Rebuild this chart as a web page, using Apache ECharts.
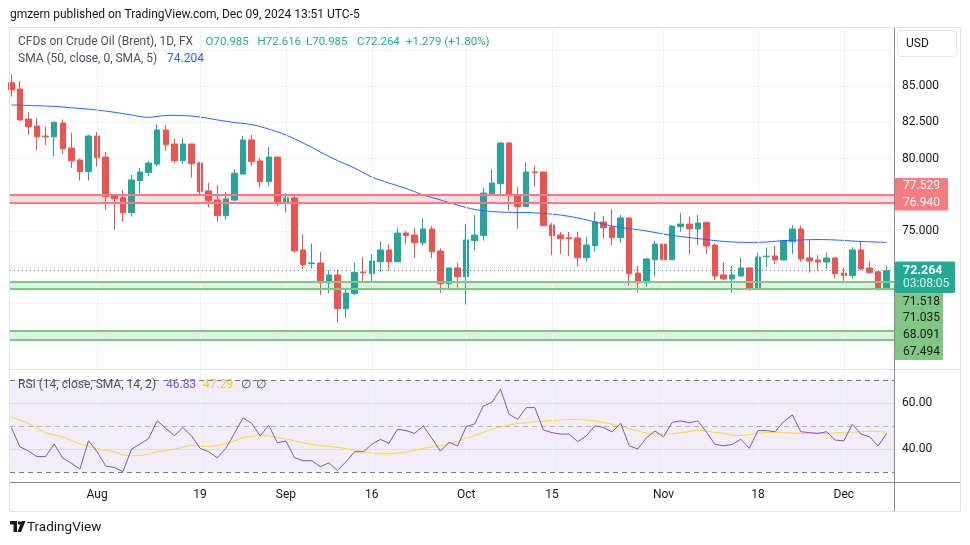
<!DOCTYPE html>
<html><head><meta charset="utf-8">
<script src="https://cdn.jsdelivr.net/npm/echarts@6/dist/echarts.min.js"></script>
<style>html,body{margin:0;padding:0;background:#fff}#c{width:970px;height:545px}</style>
</head><body><div id="c"></div>
<script>
// ---- data ----
const xLabelIdx = [10, 22, 32, 42, 53, 63, 76, 87, 97];
const xLabelText = ['Aug', '19', 'Sep', '16', 'Oct', '15', 'Nov', '18', 'Dec'];

const open = [85.23,84.79,82.72,82.24,81.55,81.50,82.45,80.72,79.90,79.09,81.55,80.10,77.43,77.30,76.26,78.47,79.02,79.62,81.97,81.00,79.85,81.00,79.69,77.76,77.14,76.06,77.14,78.93,81.28,79.83,78.40,80.10,76.95,77.28,73.69,72.75,72.79,71.43,71.97,69.64,70.68,72.18,72.06,72.88,73.69,72.88,74.86,74.72,74.19,75.14,73.62,71.37,72.45,71.85,74.33,74.68,77.57,78.26,81.07,77.48,76.68,79.07,79.07,75.41,74.72,74.54,74.52,73.16,73.99,75.62,75.28,74.54,75.90,72.10,71.43,73.02,74.10,73.02,75.30,75.48,75.14,75.60,74.03,71.97,71.69,71.90,72.45,70.98,73.23,73.28,73.00,74.26,75.14,73.14,73.00,72.86,73.14,72.10,71.92,73.69,72.45,72.19,70.985];
const close = [84.72,82.66,82.19,81.50,81.50,82.50,80.68,79.85,79.09,81.55,80.06,77.37,77.23,76.26,78.52,79.07,79.69,81.97,80.95,79.85,81.00,79.64,77.71,77.09,76.06,77.21,78.98,81.28,79.78,78.40,80.10,76.95,77.28,73.62,72.68,72.80,71.43,71.97,69.64,70.72,72.15,72.13,72.93,73.69,72.88,74.86,74.68,74.19,75.14,73.57,71.37,72.45,71.85,74.38,74.72,77.62,78.31,81.07,77.43,76.68,79.07,79.02,75.37,74.68,74.47,74.48,73.16,74.03,75.62,75.23,74.54,75.90,72.06,71.43,73.07,74.10,73.02,75.34,75.48,75.16,75.55,73.97,71.90,71.69,71.97,72.45,70.98,73.21,73.27,73.00,74.33,75.14,73.07,72.93,72.86,73.14,72.06,71.92,73.69,72.38,72.12,70.985,72.264];
const low = [84.26,82.59,81.62,80.54,80.93,80.12,80.31,79.34,78.47,78.47,79.43,76.45,75.07,75.62,75.99,77.60,78.79,79.48,80.54,79.67,79.62,78.68,77.48,76.63,75.64,75.76,77.07,78.93,79.50,77.99,78.12,76.74,76.26,73.50,72.38,72.43,70.59,70.70,68.68,69.02,70.59,71.50,71.50,72.19,72.26,72.88,74.08,73.12,74.01,73.12,70.74,70.98,71.09,69.94,73.64,74.33,77.43,77.37,76.40,75.16,76.68,78.06,75.37,73.34,73.41,73.28,72.54,72.88,73.57,74.47,74.03,74.19,71.23,70.74,71.16,71.85,73.02,73.02,74.95,73.37,74.03,73.41,71.62,71.62,70.74,71.85,70.86,70.93,72.50,72.72,73.00,73.41,72.88,72.12,72.26,72.38,71.74,71.57,71.74,72.31,72.08,70.88,70.985];
const high = [85.83,85.34,83.19,82.77,82.19,82.54,82.70,81.78,79.99,81.62,81.83,80.45,77.50,77.83,78.86,79.34,79.85,82.38,82.31,81.37,81.41,81.00,79.78,78.33,78.17,77.69,79.26,81.55,81.62,80.01,80.79,80.10,77.62,77.53,74.77,74.15,73.55,72.31,72.31,71.05,72.84,73.21,73.41,74.31,74.10,75.23,75.00,75.23,75.92,75.34,73.81,72.45,72.79,75.48,76.10,77.97,79.28,81.14,81.14,78.03,79.71,79.48,79.07,75.57,74.93,74.93,74.93,74.59,76.31,76.03,76.52,76.10,75.90,72.61,73.16,74.33,74.91,75.41,76.24,75.99,76.10,75.60,74.15,72.86,72.59,73.19,72.50,73.50,73.88,73.97,74.38,75.43,75.37,74.38,73.34,73.50,73.14,72.45,73.88,74.29,72.93,72.19,72.616];

const sma50 = [83.69,83.68,83.66,83.64,83.62,83.59,83.55,83.50,83.45,83.40,83.34,83.27,83.19,83.10,83.00,82.90,82.83,82.90,82.97,82.98,82.96,82.93,82.86,82.77,82.66,82.57,82.48,82.42,82.34,82.20,82.03,81.84,81.62,81.36,81.07,80.77,80.45,80.15,79.86,79.60,79.34,79.03,78.72,78.51,78.31,78.12,77.93,77.71,77.48,77.31,77.14,76.96,76.79,76.62,76.48,76.40,76.34,76.31,76.29,76.28,76.28,76.25,76.21,76.16,76.10,76.01,75.90,75.77,75.62,75.48,75.34,75.25,75.17,75.09,75.00,74.90,74.79,74.70,74.62,74.55,74.48,74.41,74.34,74.28,74.24,74.22,74.21,74.22,74.24,74.29,74.34,74.36,74.38,74.40,74.41,74.40,74.38,74.35,74.31,74.28,74.26,74.23,74.204];

const rsi = [49.4,41.0,39.1,36.7,36.7,42.2,36.0,33.8,31.3,43.6,38.8,32.6,32.0,30.1,39.9,42.2,44.5,52.3,49.0,45.8,49.3,45.7,40.3,38.8,36.2,40.3,46.8,53.6,51.2,45.7,50.3,42.7,43.5,36.2,34.9,34.9,32.3,34.0,30.6,34.5,38.8,38.8,42.0,44.2,42.5,48.6,48.0,46.8,50.0,44.7,39.1,42.9,41.3,49.7,50.9,58.7,60.3,66.0,55.1,52.9,58.0,58.0,48.3,47.1,46.5,46.5,43.2,45.7,50.1,49.4,47.4,51.2,41.4,40.0,44.9,47.8,45.3,51.6,52.2,51.4,52.2,47.3,42.0,41.4,42.0,44.2,40.3,48.0,48.0,47.5,51.9,54.8,47.5,47.1,46.8,47.5,43.9,43.5,50.7,46.5,45.3,41.3,46.83];
const rsiSma = [54.0,52.5,51.1,49.2,47.0,46.2,45.2,43.8,42.2,41.2,40.2,39.5,38.8,37.4,37.0,37.1,37.8,38.8,39.3,39.9,40.8,41.6,41.3,41.0,41.5,42.3,43.5,45.0,45.5,45.8,45.7,45.0,44.3,43.5,42.7,42.0,41.4,41.1,40.7,40.2,39.5,38.8,38.3,37.8,37.9,38.3,38.6,39.4,40.3,40.9,41.4,42.4,43.4,44.6,45.8,47.2,48.6,49.7,50.4,51.1,51.4,51.8,52.1,52.4,52.6,52.8,52.8,52.6,52.3,51.5,50.7,49.9,48.8,47.8,47.0,46.5,46.4,46.6,47.0,47.6,48.2,47.8,47.2,46.8,46.0,45.9,46.3,46.8,47.2,47.3,47.1,46.9,46.8,46.8,46.8,46.8,47.0,47.2,47.3,47.5,47.8,47.6,47.29];

const priceTickLabels = [85, 82.5, 80, 75];
const rsiTickLabels = [40, 60];
const resistanceZone = [77.529, 76.940];
const supportZone1 = [71.518, 71.035];
const supportZone2 = [68.091, 67.494];
const lastPrice = 72.264;
const countdown = '03:08:05';
const legendOHLC = ['O70.985', 'H72.616', 'L70.985', 'C72.264', '+1.279 (+1.80%)'];
const smaLegend = '74.204';
const rsiLegend = ['46.83', '47.29'];

// ---- chart ----
const FONT = 'Roboto';
const UP = '#26a69a', DOWN = '#ef5350';
const chart = echarts.init(document.getElementById('c'));

const candleData = open.map((o, i) => [i, o, close[i], low[i], high[i]]);
const noLine = {show: false};
const xBase = {type: 'value', min: -0.15, max: 102.85, axisLine: noLine, axisTick: noLine, splitLine: noLine};

function txt(x, y, text, color, size, weight) {
  return {type: 'text', x: x, y: y, silent: true, z: 100,
    style: {text: text, fill: color, fontSize: size || 12, fontWeight: weight || 'normal', fontFamily: FONT, verticalAlign: 'middle', align: 'left'}};
}

const zoneLines = (vals, color) => vals.map(v => ({yAxis: v, lineStyle: {color: color, width: 2, type: 'solid'}}));

const option = {
  animation: false,
  backgroundColor: '#ffffff',
  textStyle: {fontFamily: FONT},
  grid: [
    {left: 10, width: 884, top: 28, height: 348},
    {left: 10, width: 884, top: 357, height: 138}
  ],
  xAxis: [
    Object.assign({gridIndex: 0, axisLabel: noLine}, xBase),
    Object.assign({gridIndex: 1, position: 'bottom', offset: -13,
      axisLabel: {show: true, customValues: xLabelIdx, color: '#131722', fontSize: 12, margin: 7,
        formatter: v => { const k = xLabelIdx.indexOf(Math.round(v)); return k >= 0 ? xLabelText[k] : ''; }}}, xBase)
  ],
  yAxis: [
    {gridIndex: 0, type: 'value', position: 'right', min: 65, max: 89, interval: 2.5,
      axisLine: noLine, axisTick: noLine,
      axisLabel: {color: '#131722', fontSize: 12, margin: 8,
        formatter: v => priceTickLabels.some(t => Math.abs(t - v) < 1e-6) ? v.toFixed(3) : ''},
      splitLine: {show: true, showMinLine: false, showMaxLine: false, lineStyle: {color: '#f0f3fa', width: 1}}},
    {gridIndex: 1, type: 'value', position: 'right', min: 20, max: 80, interval: 20,
      axisLine: noLine, axisTick: noLine,
      axisLabel: {color: '#131722', fontSize: 12, margin: 8,
        formatter: v => rsiTickLabels.indexOf(Math.round(v)) >= 0 ? v.toFixed(2) : ''},
      splitLine: {show: true, showMinLine: false, showMaxLine: false, lineStyle: {color: '#ebe8f3', width: 1}}}
  ],
  series: [
    { // price pane decorations: vertical grid, zones, last price line
      type: 'line', xAxisIndex: 0, yAxisIndex: 0, data: [], z: 1, silent: true,
      markArea: {silent: true, data: [
        [{yAxis: resistanceZone[0], itemStyle: {color: 'rgba(247,124,128,0.25)'}}, {yAxis: resistanceZone[1]}],
        [{yAxis: supportZone1[0], itemStyle: {color: 'rgba(129,199,132,0.25)'}}, {yAxis: supportZone1[1]}],
        [{yAxis: supportZone2[0], itemStyle: {color: 'rgba(129,199,132,0.25)'}}, {yAxis: supportZone2[1]}]
      ]},
      markLine: {silent: true, symbol: ['none', 'none'], label: {show: false}, data: [].concat(
        xLabelIdx.map(i => ({xAxis: i, lineStyle: {color: '#f0f3fa', width: 1, type: 'solid'}})),
        zoneLines(resistanceZone, '#f77c80'),
        zoneLines(supportZone1, '#81c784'),
        zoneLines(supportZone2, '#81c784'),
        [{yAxis: lastPrice, lineStyle: {color: '#22ab94', width: 1, type: [1, 3]}}]
      )}
    },
    {
      type: 'candlestick', xAxisIndex: 0, yAxisIndex: 0, z: 3, barWidth: 6,
      encode: {x: 0, y: [1, 2, 3, 4]},
      itemStyle: {color: UP, color0: DOWN, borderColor: UP, borderColor0: DOWN, borderWidth: 1},
      data: candleData
    },
    {
      type: 'line', xAxisIndex: 0, yAxisIndex: 0, z: 4, symbol: 'none', smooth: 0.3,
      lineStyle: {color: '#2962ff', width: 1}, data: sma50.map((v, i) => [i, v])
    },
    { // RSI pane decorations
      type: 'line', xAxisIndex: 1, yAxisIndex: 1, data: [], z: 1, silent: true,
      markArea: {silent: true, data: [[{yAxis: 70, itemStyle: {color: 'rgba(126,87,194,0.1)'}}, {yAxis: 30}]]},
      markLine: {silent: true, symbol: ['none', 'none'], label: {show: false}, data: [].concat(
        xLabelIdx.map(i => [{coord: [i, 25.65], lineStyle: {color: '#f0f3fa', width: 1, type: 'solid'}}, {coord: [i, 74.8]}]),
        [{yAxis: 70, lineStyle: {color: '#787b86', width: 1, type: [5, 4]}},
         {yAxis: 50, lineStyle: {color: 'rgba(120,123,134,0.5)', width: 1, type: [5, 4]}},
         {yAxis: 30, lineStyle: {color: '#787b86', width: 1, type: [5, 4]}}]
      )}
    },
    {
      type: 'line', xAxisIndex: 1, yAxisIndex: 1, z: 4, symbol: 'none',
      lineStyle: {color: '#fdd835', width: 1}, data: rsiSma.map((v, i) => [i, v])
    },
    {
      type: 'line', xAxisIndex: 1, yAxisIndex: 1, z: 5, symbol: 'none',
      lineStyle: {color: '#7e57c2', width: 1}, data: rsi.map((v, i) => [i, v])
    }
  ],
  graphic: [
    // frame & separators
    {type: 'rect', silent: true, z: 50, shape: {x: 9.5, y: 27.5, width: 951, height: 484}, style: {fill: 'none', stroke: '#e0e3eb', lineWidth: 1}},
    {type: 'line', silent: true, z: 50, shape: {x1: 10, y1: 369.5, x2: 960, y2: 369.5}, style: {stroke: '#e0e3eb', lineWidth: 1}},
    {type: 'line', silent: true, z: 50, shape: {x1: 10, y1: 482.5, x2: 960, y2: 482.5}, style: {stroke: '#8a8d97', lineWidth: 1}},
    {type: 'line', silent: true, z: 50, shape: {x1: 894.5, y1: 28, x2: 894.5, y2: 511}, style: {stroke: '#8a8d97', lineWidth: 1}},
    // header
    txt(10, 15, 'gmzern published on TradingView.com, Dec 09, 2024 13:51 UTC-5', '#131722', 12),
    // USD box
    {type: 'rect', silent: true, z: 60, shape: {x: 897.5, y: 30.5, width: 59, height: 26, r: 4}, style: {fill: '#ffffff', stroke: '#e0e3eb', lineWidth: 1}},
    txt(906, 43.5, 'USD', '#131722', 12),
    // legend
    txt(18, 42, 'CFDs on Crude Oil (Brent), 1D, FX', '#4c505b', 12),
    txt(205.5, 42, legendOHLC[0], '#22ab94', 11.5),
    txt(257.5, 42, legendOHLC[1], '#22ab94', 11.5),
    txt(306, 42, legendOHLC[2], '#22ab94', 11.5),
    txt(357, 42, legendOHLC[3], '#22ab94', 11.5),
    txt(406, 42, legendOHLC[4], '#22ab94', 11.5),
    txt(18, 59, 'SMA (50, close, 0, SMA, 5)', '#4c505b', 12),
    txt(167, 59, smaLegend, '#2962ff', 12),
    txt(18, 385, 'RSI (14, close, SMA, 14, 2)', '#4c505b', 12),
    txt(166, 385, rsiLegend[0], '#7e57c2', 12),
    txt(203, 385, rsiLegend[1], '#f2cf1f', 12),
    txt(241, 385, '\u2205', '#4c505b', 12),
    txt(256, 385, '\u2205', '#4c505b', 12),
    // price tags
    {type: 'rect', silent: true, z: 90, shape: {x: 895, y: 178, width: 53, height: 32.5, r: 1}, style: {fill: '#f77c80'}},
    txt(903, 186, resistanceZone[0].toFixed(3), '#ffffff', 12),
    txt(903, 202.5, resistanceZone[1].toFixed(3), '#ffffff', 12),
    {type: 'rect', silent: true, z: 90, shape: {x: 895, y: 261.5, width: 60, height: 31.5, r: 1}, style: {fill: '#22ab94'}},
    txt(903, 270.5, lastPrice.toFixed(3), '#ffffff', 12.5, 'bold'),
    txt(903, 283.5, countdown, 'rgba(255,255,255,0.85)', 12),
    {type: 'rect', silent: true, z: 90, shape: {x: 895, y: 293, width: 48, height: 67, r: 1}, style: {fill: '#81c784'}},
    txt(903, 301.7, supportZone1[0].toFixed(3), '#131722', 12),
    txt(903, 318.3, supportZone1[1].toFixed(3), '#131722', 12),
    txt(903, 335, supportZone2[0].toFixed(3), '#131722', 12),
    txt(903, 351.7, supportZone2[1].toFixed(3), '#131722', 12),
    // TradingView logo
    {type: 'rect', silent: true, shape: {x: 10, y: 521, width: 7, height: 3.5}, style: {fill: '#131722'}},
    {type: 'rect', silent: true, shape: {x: 13.5, y: 521, width: 3.5, height: 11}, style: {fill: '#131722'}},
    {type: 'circle', silent: true, shape: {cx: 19.5, cy: 523, r: 1.8}, style: {fill: '#131722'}},
    {type: 'polygon', silent: true, shape: {points: [[21.5, 521], [25.5, 521], [21, 532], [17.5, 532]]}, style: {fill: '#131722'}},
    txt(27, 527.5, 'TradingView', '#131722', 13.5)
  ]
};
chart.setOption(option);
</script>
</body></html>
